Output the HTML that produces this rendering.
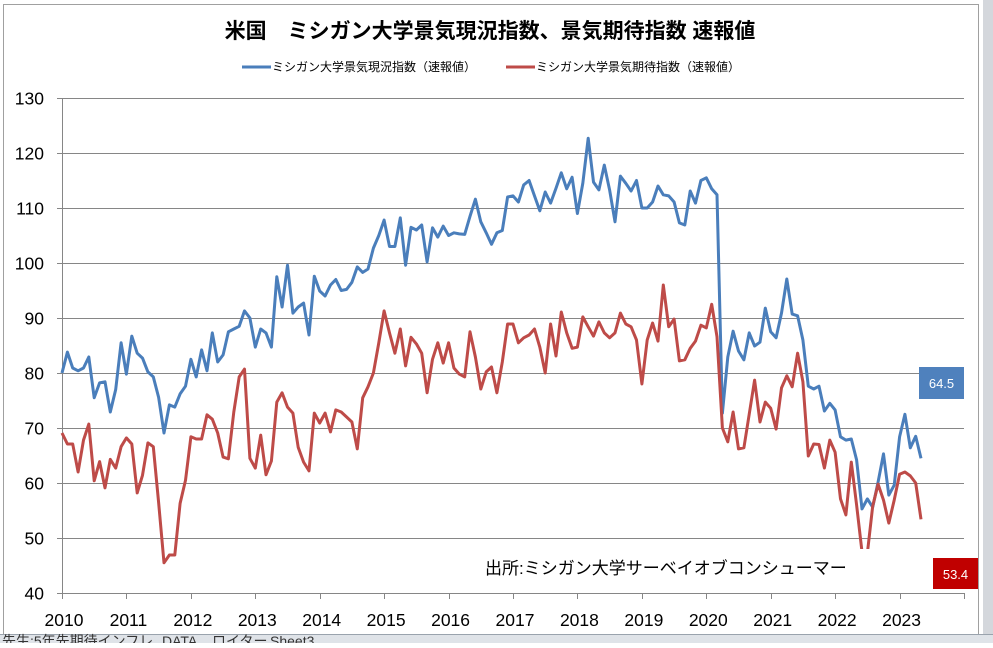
<!DOCTYPE html>
<html><head><meta charset="utf-8">
<style>
html,body{margin:0;padding:0;background:#fff;}
body{width:993px;height:643px;overflow:hidden;position:relative;font-family:"Liberation Sans","Noto Sans CJK JP",sans-serif;}
svg text{font-family:"Liberation Sans","Noto Sans CJK JP",sans-serif;}
</style></head>
<body>
<svg id="chart" width="993" height="643" viewBox="0 0 993 643" xmlns="http://www.w3.org/2000/svg">
  <rect x="0" y="0" width="993" height="643" fill="#ffffff"/>
  <rect x="983" y="0" width="10" height="643" fill="#d4d7dc"/>
  <rect x="3.5" y="4.5" width="975" height="640" fill="#fff" stroke="#a0a0a0" stroke-width="1"/>
  <g>
    <rect x="0" y="634" width="993" height="9" fill="#dfe3e8"/>
    <line x1="0" y1="634.5" x2="993" y2="634.5" stroke="#9aa3ad"/>
    <text x="2" y="646" font-size="14" fill="#333">先生:5年先期待インフレ</text>
    <text x="162" y="646" font-size="14" fill="#333">DATA</text>
    <text x="212" y="646" font-size="14" fill="#333">ロイター</text>
    <text x="270" y="646" font-size="14" fill="#333">Sheet3</text>
  </g>
  <text x="490" y="38" text-anchor="middle" font-size="21" font-weight="bold" fill="#000">米国　ミシガン大学景気現況指数、景気期待指数 速報値</text>
  <g>
    <line x1="242" y1="67" x2="271" y2="67" stroke="#4a7ebb" stroke-width="3"/>
    <text x="272" y="71" font-size="12" fill="#000">ミシガン大学景気現況指数（速報値）</text>
    <line x1="506" y1="67" x2="535" y2="67" stroke="#be4b48" stroke-width="3"/>
    <text x="536" y="71" font-size="12" fill="#000">ミシガン大学景気期待指数（速報値）</text>
  </g>
  <g id="grid"></g>
  <g id="axes"></g>
  <g id="series"></g>
  <rect x="478" y="549" width="392" height="36" fill="#ffffff"/>
  <text x="485" y="574" font-size="17" fill="#000">出所:ミシガン大学サーベイオブコンシューマー</text>
  <g>
    <rect x="919" y="367" width="45" height="32" fill="#4f81bd"/>
    <text x="941.5" y="388" text-anchor="middle" font-size="13" fill="#fff">64.5</text>
  </g>
  <g>
    <rect x="933" y="558" width="45" height="31" fill="#c00000"/>
    <text x="955.5" y="579" text-anchor="middle" font-size="13" fill="#fff">53.4</text>
  </g>
</svg>
<script>
const yearLabels = ["2010","2011","2012","2013","2014","2015","2016","2017","2018","2019","2020","2021","2022","2023"];
const yTicks = [40,50,60,70,80,90,100,110,120,130];
const currentIndex = [
80,83.8,80.9,80.4,80.9,82.9,75.5,78.2,78.4,72.9,
77,85.5,79.8,86.7,83.6,82.7,80.2,79.3,75.6,69.1,
74.2,73.8,76.2,77.6,82.5,79.3,84.2,80.4,87.3,82,
83.3,87.5,88,88.5,91.3,90,84.7,88,87.3,84.7,
97.5,92,99.6,90.9,92,92.7,86.9,97.6,94.9,94,
96,97,95,95.2,96.5,99.3,98.3,98.9,102.7,105,
107.8,103,103,108.2,99.6,106.5,106,106.9,100.2,106.4,
104.7,106.7,105,105.5,105.3,105.2,108.5,111.6,107.5,105.5,
103.4,105.5,105.9,112,112.2,111.1,114.2,115,112.2,109.5,
112.9,110.9,113.6,116.4,113.5,115.6,109,114.5,122.7,114.7,
113.3,117.8,113.3,107.5,115.8,114.5,113.1,115,110,110,
111.1,114,112.4,112.2,111.1,107.3,106.9,113.1,110.9,115,
115.5,113.5,112.4,72.7,82.9,87.6,84,82.4,87.3,84.9,
85.6,91.8,87.5,86.4,90.9,97.1,90.7,90.4,86,77.6,
77.1,77.6,73.1,74.5,73.3,68.4,67.8,68,64.2,55.3,
57.1,55.6,60.2,65.3,57.8,59.6,68.4,72.5,66.4,68.5,64.5];
const expectationsIndex = [
69.1,67.1,67.1,62,67.8,70.7,60.4,63.9,59.1,64.3,
62.7,66.6,68.2,67.1,58.2,61.4,67.3,66.6,56.5,45.5,
46.9,46.9,56.3,60.5,68.4,68,68,72.4,71.6,69.1,
64.7,64.4,72.9,79.3,80.7,64.5,62.7,68.7,61.5,64,
74.7,76.4,73.8,72.7,66.5,63.8,62.2,72.7,70.9,72.7,
69.3,73.3,72.9,72,71.1,66.2,75.5,77.5,80,85.5,
91.3,87.3,83.6,88,81.3,86.5,85.3,83.6,76.4,82.5,
85.5,81.8,85.5,80.9,79.8,79.3,87.5,82.9,77.1,80.2,
81.1,76.4,82,88.9,88.9,85.5,86.4,86.9,88,84.7,
80,88.9,83.1,91.1,87.3,84.5,84.7,90.2,88.4,86.7,
89.3,87.3,86.4,87.3,90.9,88.9,88.4,86,78,86,
89.1,85.8,96,88.4,89.8,82.2,82.4,84.5,85.8,88.7,
88.2,92.5,86.6,70,67.5,72.9,66.2,66.4,72.5,78.7,
71.1,74.7,73.6,69.8,77.3,79.5,77.5,83.6,78.4,64.9,
67.1,67,62.7,67.8,65.6,57.1,54.2,63.8,56,47.5,
47.3,55.8,59.8,56.9,52.7,56.9,61.6,62,61.3,60,53.4];

const NS = "http://www.w3.org/2000/svg";
const X0 = 62, X1 = 964, Y0 = 593, Y1 = 98, VMIN = 40, VMAX = 130;
const monthsTotal = yearLabels.length * 12;
function xScale(i){ return X0 + (X1 - X0) * i / monthsTotal; }
function yScale(v){ return Y0 - (v - VMIN) / (VMAX - VMIN) * (Y0 - Y1); }
function mk(tag, attrs, parent){ const e = document.createElementNS(NS, tag); for (const k in attrs) e.setAttribute(k, attrs[k]); parent.appendChild(e); return e; }

const grid = document.getElementById('grid');
const axes = document.getElementById('axes');
yTicks.forEach(v => {
  const y = Math.round(yScale(v)) + 0.5;
  if (v > VMIN) {
    const g = mk('line', {x1: X0, x2: X1, y1: y, y2: y, stroke: '#868686', 'stroke-width': 1}, grid);
    
    
  }
  const t = mk('line', {x1: X0 - 5, x2: X0, y1: y, y2: y, stroke: '#868686'}, axes);
  
  
  const lb = mk('text', {x: 44, y: y + 6, 'text-anchor': 'end', 'font-size': 17.5, fill: '#000'}, axes);
  lb.textContent = v;
  
  
});
const ya = mk('line', {x1: X0 + 0.5, x2: X0 + 0.5, y1: Y1, y2: Y0 + 1, stroke: '#868686'}, axes);


const xa = mk('line', {x1: X0, x2: X1, y1: Y0 + 0.5, y2: Y0 + 0.5, stroke: '#868686'}, axes);


for (let k = 0; k <= yearLabels.length; k++) {
  const x = Math.round(xScale(k * 12)) + 0.5;
  const tk = mk('line', {x1: x, x2: x, y1: Y0, y2: Y0 + 6, stroke: '#868686'}, axes);
  
  
}
yearLabels.forEach((lab, k) => {
  const t = mk('text', {x: xScale(k * 12) + 2, y: 626, 'text-anchor': 'middle', 'font-size': 17.5, fill: '#000'}, axes);
  t.textContent = lab;
  
  
});

const series = document.getElementById('series');
function drawLine(vals, color, name){
  const d = vals.map((v, i) => (i ? 'L' : 'M') + xScale(i).toFixed(1) + ',' + yScale(v).toFixed(1)).join(' ');
  const p = mk('path', {d: d, fill: 'none', stroke: color, 'stroke-width': 3, 'stroke-linejoin': 'round'}, series);
  
  
}
drawLine(currentIndex, '#4a7ebb', 'current-conditions-line');
drawLine(expectationsIndex, '#be4b48', 'expectations-line');
</script>
</body></html>
